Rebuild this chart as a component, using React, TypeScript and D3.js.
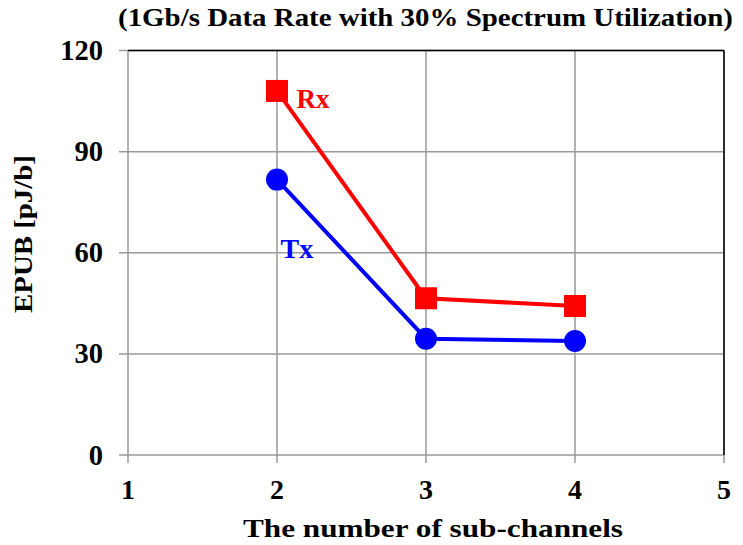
import React from "react";
import * as d3 from "d3";

const xValues = [2, 3, 4];
const rxValues = [108, 46.5, 44.2];
const txValues = [81.7, 34.5, 33.8];
const xTicks = [1, 2, 3, 4, 5];
const yTicks = [0, 30, 60, 90, 120];

export default function App() {
  const W = 743, H = 545;
  const left = 128, right = 724, top = 50.5, bottom = 455;
  const x = d3.scaleLinear().domain([1, 5]).range([left, right]);
  const y = d3.scaleLinear().domain([0, 120]).range([bottom, top]);
  const line = d3.line<number>().x((_, i) => x(xValues[i])).y((d) => y(d));
  const font = "'Liberation Serif', 'Times New Roman', serif";
  return (
    <svg width={W} height={H} style={{ position: "absolute", left: 0, top: 0, background: "#fff" }} fontFamily={font} fontWeight="bold">
      <text x={118} y={26} fontSize={24.5} textLength={615} lengthAdjust="spacingAndGlyphs">(1Gb/s Data Rate with 30% Spectrum Utilization)</text>
      {xTicks.map((t) => (
        <line key={"gx" + t} x1={x(t)} x2={x(t)} y1={top} y2={bottom + 8} stroke="#999" strokeWidth={1.5} />
      ))}
      {yTicks.map((t) => (
        <line key={"gy" + t} x1={left - 9} x2={right} y1={y(t)} y2={y(t)} stroke="#999" strokeWidth={1.5} />
      ))}
      <line x1={left} x2={right} y1={top} y2={top} stroke="#000" strokeWidth={1.5} />
      <line x1={right} x2={right} y1={top} y2={bottom} stroke="#000" strokeWidth={1.5} />
      {yTicks.map((t) => (
        <text key={"ly" + t} x={103} y={y(t) + 9.5} textAnchor="end" fontSize={28.5}>{t}</text>
      ))}
      {xTicks.map((t) => (
        <text key={"lx" + t} x={x(t)} y={498.5} textAnchor="middle" fontSize={28}>{t}</text>
      ))}
      <text x={243} y={537} fontSize={25.5} textLength={380} lengthAdjust="spacingAndGlyphs">The number of sub-channels</text>
      <text transform={`translate(32,313) rotate(-90)`} fontSize={25.5} textLength={158} lengthAdjust="spacingAndGlyphs">EPUB [pJ/b]</text>
      <path d={line(rxValues) || ""} fill="none" stroke="#ff0000" strokeWidth={4} />
      <path d={line(txValues) || ""} fill="none" stroke="#0000ff" strokeWidth={4} />
      {rxValues.map((v, i) => (
        <rect key={"r" + i} x={x(xValues[i]) - 11} y={y(v) - 11} width={22} height={22} fill="#ff0000" />
      ))}
      {txValues.map((v, i) => (
        <circle key={"c" + i} cx={x(xValues[i])} cy={y(v)} r={11} fill="#0000ff" />
      ))}
      <text x={296.5} y={108.3} fontSize={27} fill="#ff0000">Rx</text>
      <text x={280.5} y={258.3} fontSize={28} fill="#0000ff">Tx</text>
    </svg>
  );
}
